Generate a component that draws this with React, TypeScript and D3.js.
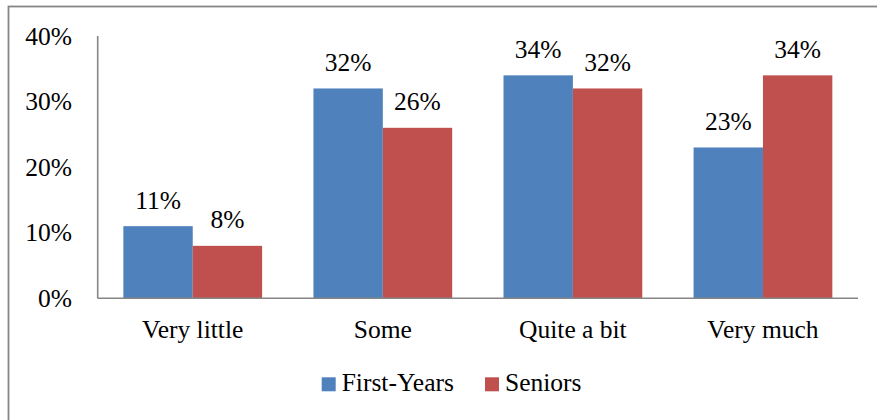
import React from "react";
import * as d3 from "d3";

const categories = ["Very little", "Some", "Quite a bit", "Very much"];
const seriesNames = ["First-Years", "Seniors"];
const firstYears = [11, 32, 34, 23];
const seniors = [8, 26, 32, 34];
const yTicks = [0, 10, 20, 30, 40];
const colors = ["#4F81BD", "#C0504D"];

const W = 877;
const H = 420;
const plot = { left: 97.7, right: 858, top: 36, bottom: 298.3 };
const FONT = '"Liberation Serif", "Times New Roman", Times, serif';
const FS = 25.5;
const textStyle: React.CSSProperties = { fontFamily: FONT, fontSize: FS };

export default function App() {
  const x0 = d3
    .scaleBand<string>()
    .domain(categories)
    .range([plot.left, plot.right])
    .paddingInner(0.27)
    .paddingOuter(0.135);
  const x1 = d3
    .scaleBand<string>()
    .domain(seriesNames)
    .range([0, x0.bandwidth()])
    .padding(0);
  const y = d3.scaleLinear().domain([0, 40]).range([plot.bottom, plot.top]);

  const values = [firstYears, seniors];

  // legend layout
  const legendY = 391;
  const legendItems = [
    { name: seriesNames[0], sq: 321.7, tx: 341.7 },
    { name: seriesNames[1], sq: 485, tx: 505 },
  ];

  return (
    <svg
      width={W}
      height={H}
      style={{ position: "absolute", left: 0, top: 0, background: "#fff" }}
    >
      <rect x={8.5} y={6.5} width={900} height={450} fill="#fff" stroke="#868686" strokeWidth={1.8} />

      {/* bars */}
      {categories.map((c, ci) => (
        <g key={c} transform={`translate(${x0(c)},0)`}>
          {seriesNames.map((s, si) => {
            const v = values[si][ci];
            const bx = x1(s)!;
            const by = y(v);
            return (
              <g key={s}>
                <rect
                  x={bx}
                  y={by}
                  width={x1.bandwidth()}
                  height={y(0) - by}
                  fill={colors[si]}
                />
                <text
                  x={bx + x1.bandwidth() / 2}
                  y={by - 17.5}
                  textAnchor="middle"
                  style={textStyle}
                  fill="#000"
                >
                  {`${v}%`}
                </text>
              </g>
            );
          })}
        </g>
      ))}

      {/* y axis */}
      <line x1={plot.left} x2={plot.left} y1={plot.top} y2={plot.bottom} stroke="#868686" strokeWidth={1.6} />
      {yTicks.map((t) => (
        <text
          key={t}
          x={72}
          y={y(t) + 8.5}
          textAnchor="end"
          style={textStyle}
          fill="#000"
        >
          {`${t}%`}
        </text>
      ))}

      {/* x axis */}
      <line x1={plot.left} x2={plot.right} y1={plot.bottom} y2={plot.bottom} stroke="#868686" strokeWidth={1.6} />
      {categories.map((c) => (
        <text
          key={c}
          x={x0(c)! + x0.bandwidth() / 2}
          y={338}
          textAnchor="middle"
          style={textStyle}
          fill="#000"
        >
          {c}
        </text>
      ))}

      {/* legend */}
      {legendItems.map((it, i) => (
        <g key={it.name}>
          <rect x={it.sq} y={377.3} width={14} height={14} fill={colors[i]} />
          <text x={it.tx} y={legendY} style={textStyle} fill="#000">
            {it.name}
          </text>
        </g>
      ))}
    </svg>
  );
}
